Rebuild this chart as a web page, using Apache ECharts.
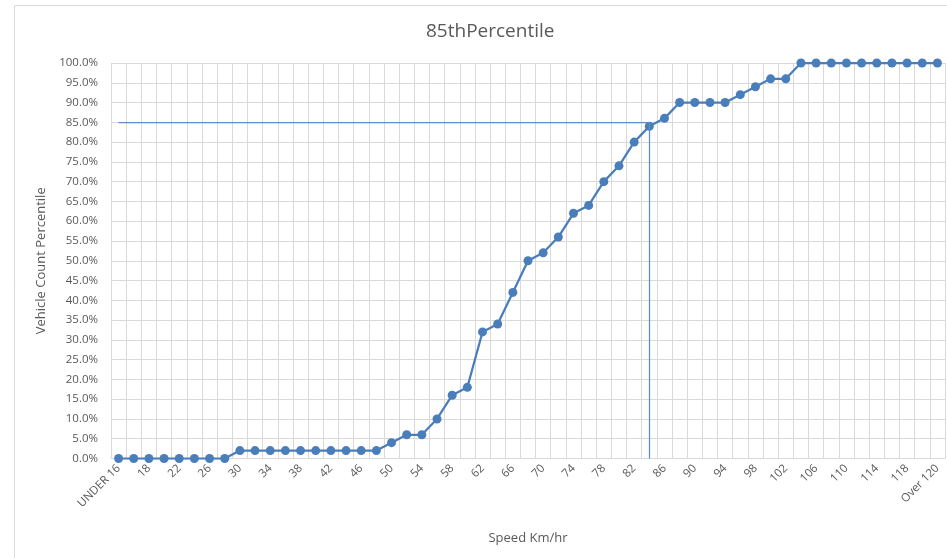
<!DOCTYPE html>
<html>
<head>
<meta charset="utf-8">
<title>85thPercentile</title>
<script src="https://cdn.jsdelivr.net/npm/echarts@6/dist/echarts.min.js"></script>
<style>
  html, body { margin: 0; padding: 0; background: #ffffff; }
  #chart { width: 947px; height: 558px; }
</style>
</head>
<body>
<div id="chart"></div>
<script>
// Speed bins (km/hr)
const speedBins = [
  'UNDER 16', '16', '18', '20', '22', '24', '26', '28', '30', '32', '34',
  '36', '38', '40', '42', '44', '46', '48', '50', '52', '54', '56',
  '58', '60', '62', '64', '66', '68', '70', '72', '74', '76', '78',
  '80', '82', '84', '86', '88', '90', '92', '94', '96', '98', '100',
  '102', '104', '106', '108', '110', '112', '114', '116', '118', '120', 'Over 120'
];

// Cumulative vehicle count percentile per bin (%)
const cumulativePct = [
  0, 0, 0, 0, 0, 0, 0, 0, 2, 2, 2,
  2, 2, 2, 2, 2, 2, 2, 4, 6, 6, 10,
  16, 18, 32, 34, 42, 50, 52, 56, 62, 64, 70,
  74, 80, 84, 86, 90, 90, 90, 90, 92, 94, 96,
  96, 100, 100, 100, 100, 100, 100, 100, 100, 100, 100
];

// 85th percentile guide: level and the speed bin it is read at
const percentileLevel = 85;
const percentileBin = '84';

// Y axis ticks
const yMin = 0;
const yMax = 100;
const yStep = 5;

const textColor = '#595959';
const gridColor = '#d9d9d9';
const lineColor = '#4a7ebb';
const guideColor = '#5f8cc6';
const fontFamily = '"Open Sans", "Liberation Sans", sans-serif';

const chart = echarts.init(document.getElementById('chart'), null, { renderer: 'canvas' });

chart.setOption({
  backgroundColor: '#ffffff',
  animation: false,
  graphic: [{
    type: 'rect',
    shape: { x: 14.5, y: 5.5, width: 960, height: 600 },
    style: { fill: 'none', stroke: gridColor, lineWidth: 1 },
    silent: true,
    z: -1
  }],
  title: {
    text: '85thPercentile',
    left: 421,
    top: 17,
    textStyle: { color: textColor, fontFamily: fontFamily, fontSize: 19, fontWeight: 'normal' }
  },
  grid: { left: 111, right: 2, top: 63, bottom: 99.5, containLabel: false },
  xAxis: {
    type: 'category',
    data: speedBins,
    boundaryGap: true,
    name: 'Speed Km/hr',
    nameLocation: 'middle',
    nameGap: 73,
    nameTextStyle: { color: textColor, fontFamily: fontFamily, fontSize: 13 },
    axisLine: { show: true, lineStyle: { color: gridColor, width: 1 } },
    axisTick: { show: false },
    axisLabel: {
      interval: 1,
      rotate: 45,
      margin: 8,
      color: textColor,
      fontFamily: fontFamily,
      fontSize: 11.5
    },
    splitLine: { show: true, interval: 0, lineStyle: { color: gridColor, width: 1 } }
  },
  yAxis: {
    type: 'value',
    min: yMin,
    max: yMax,
    interval: yStep,
    name: 'Vehicle Count Percentile',
    nameLocation: 'middle',
    nameRotate: 90,
    nameGap: 55,
    nameTextStyle: { color: textColor, fontFamily: fontFamily, fontSize: 13 },
    axisLine: { show: false },
    axisTick: { show: false },
    axisLabel: {
      margin: 13,
      color: textColor,
      fontFamily: fontFamily,
      fontSize: 11.5,
      formatter: v => v.toFixed(1) + '%'
    },
    splitLine: { show: true, lineStyle: { color: gridColor, width: 1 } }
  },
  series: [{
    name: '85thPercentile',
    type: 'line',
    data: cumulativePct,
    symbol: 'circle',
    symbolSize: 9,
    showAllSymbol: true,
    lineStyle: { color: lineColor, width: 2.25 },
    itemStyle: { color: lineColor },
    z: 3,
    markLine: {
      silent: true,
      symbol: ['none', 'none'],
      label: { show: false },
      lineStyle: { color: guideColor, width: 1.25, type: 'solid' },
      data: [
        [{ coord: [speedBins[0], percentileLevel] }, { coord: [percentileBin, percentileLevel] }],
        [{ coord: [percentileBin, yMin] }, { coord: [percentileBin, percentileLevel] }]
      ]
    }
  }]
});
</script>
</body>
</html>
